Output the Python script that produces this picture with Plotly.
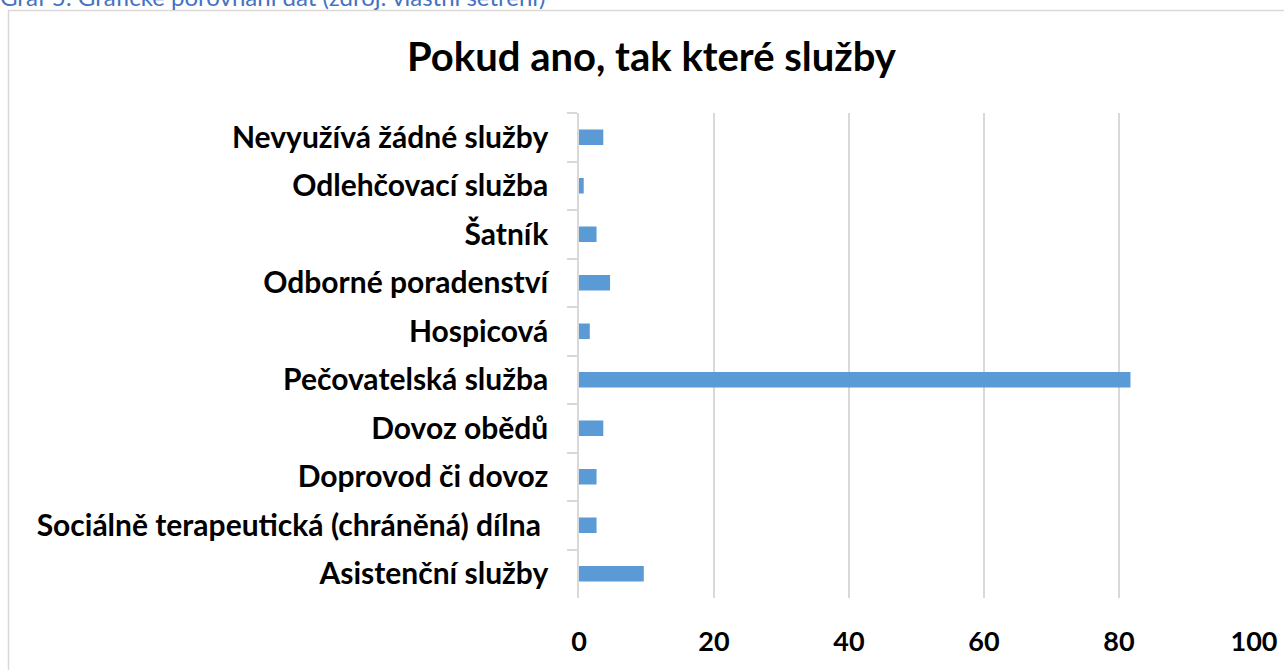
import plotly.graph_objects as go

# ---- data ----
categories = [
    "Nevyužívá žádné služby",
    "Odlehčovací služba",
    "Šatník",
    "Odborné poradenství",
    "Hospicová",
    "Pečovatelská služba",
    "Dovoz obědů",
    "Doprovod či dovoz",
    "Sociálně terapeutická (chráněná) dílna\u00a0",
    "Asistenční služby",
]
values = [3.6, 0.7, 2.6, 4.6, 1.6, 81.7, 3.6, 2.6, 2.6, 9.6]
x_ticks = [0, 20, 40, 60, 80, 100]
title_text = "Pokud ano, tak které služby"
caption_text = "Graf 5: Grafické porovnání dat (zdroj: vlastní šetření)"

# ---- layout geometry ----
W, H = 1284, 670
L, R, T, B = 579, 30, 113, 72
PW, PH = W - L - R, H - T - B


def pxx(px):
    return (px - L) / PW


def pxy(py):
    return (H - B - py) / PH


FONT = "Lato"
GRID = "#d9d9d9"

fig = go.Figure(
    go.Bar(
        x=values,
        y=categories,
        orientation="h",
        width=0.32,
        marker=dict(color="#5b9bd5", line=dict(width=0)),
        hoverinfo="x+y",
    )
)

fig.update_layout(
    width=W,
    height=H,
    autosize=False,
    margin=dict(l=L, r=R, t=T, b=B, pad=0, autoexpand=False),
    paper_bgcolor="white",
    plot_bgcolor="white",
    showlegend=False,
    title=dict(
        text=title_text,
        x=651.5 / W,
        xanchor="center",
        xref="container",
        y=1 - 57 / H,
        yanchor="middle",
        yref="container",
        font=dict(family=FONT, size=40, color="black", weight=700),
    ),
    xaxis=dict(
        range=[0, 100],
        tickvals=x_ticks,
        ticktext=[str(v) for v in x_ticks],
        showgrid=True,
        gridcolor=GRID,
        gridwidth=1.5,
        zeroline=False,
        showline=False,
        ticks="",
        ticklabelstandoff=25,
        tickfont=dict(family=FONT, size=27, color="black", weight=700),
        fixedrange=True,
        automargin=False,
    ),
    yaxis=dict(
        autorange="reversed",
        showline=True,
        linecolor=GRID,
        linewidth=1.5,
        ticks="outside",
        ticklen=10,
        tickwidth=1.5,
        tickcolor=GRID,
        tickson="boundaries",
        showgrid=False,
        ticklabelstandoff=23,
        tickfont=dict(family=FONT, size=30, color="black", weight=700),
        fixedrange=True,
        automargin=False,
    ),
    shapes=[
        dict(
            type="rect",
            xref="paper",
            yref="paper",
            x0=pxx(8.5),
            x1=pxx(1300),
            y0=pxy(700),
            y1=pxy(10.5),
            line=dict(color=GRID, width=1.5),
            fillcolor="rgba(0,0,0,0)",
            layer="below",
        )
    ],
    annotations=[
        dict(
            text=caption_text,
            xref="paper",
            yref="paper",
            x=pxx(-2),
            xanchor="left",
            y=pxy(13),
            yanchor="bottom",
            showarrow=False,
            font=dict(family=FONT, size=24, color="#4472c4"),
        )
    ],
)

fig.write_html(
    "out.html",
    config={"displayModeBar": False},
    post_script="document.body.style.margin='0';document.body.style.overflow='hidden';",
)
